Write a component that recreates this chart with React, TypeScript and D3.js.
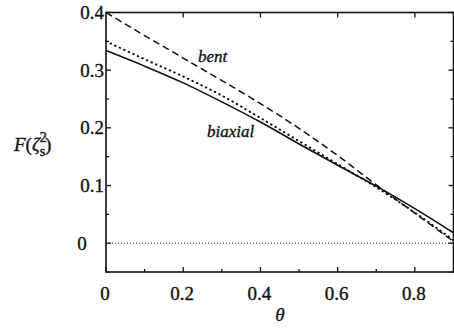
import { useEffect, useRef } from 'react';
import * as d3 from 'd3';

const theta = [0, 0.1, 0.2, 0.3, 0.4, 0.5, 0.6, 0.7, 0.8, 0.9];
const biaxial = [0.334, 0.307, 0.278, 0.245, 0.21, 0.172, 0.135, 0.099, 0.06, 0.018];
const dotted = [0.35, 0.319, 0.289, 0.256, 0.217, 0.177, 0.137, 0.097, 0.053, 0.005];
const bent = [0.4, 0.36, 0.321, 0.282, 0.242, 0.199, 0.152, 0.101, 0.052, 0.003];

const xMajor = [0, 0.2, 0.4, 0.6, 0.8];
const xMinor = [0.1, 0.3, 0.5, 0.7];
const yMajor = [0, 0.1, 0.2, 0.3, 0.4];
const yMinor = [-0.05, 0.05, 0.15, 0.25, 0.35];

const W = 454;
const H = 328;
const FONT = '"Liberation Serif", "Times New Roman", serif';

const App = () => {
  const svgRef = useRef<SVGSVGElement>(null);

  useEffect(() => {
    const svg = d3.select(svgRef.current);
    svg.selectAll('*').remove();

    const x = d3.scaleLinear().domain([0, 0.9]).range([106, 453.5]);
    const y = d3.scaleLinear().domain([-0.05, 0.4]).range([272, 12.5]);
    const [x0, x1] = x.range();
    const [y0, y1] = y.range();

    const g = svg.append('g');

    // zero line
    g.append('line')
      .attr('x1', x0).attr('x2', x1)
      .attr('y1', y(0)).attr('y2', y(0))
      .attr('stroke', '#222').attr('stroke-width', 1)
      .attr('stroke-dasharray', '1,2');

    const line = d3.line<number>()
      .x((d, i) => x(theta[i]))
      .y(d => y(d))
      .curve(d3.curveMonotoneX);

    g.append('path').datum(bent)
      .attr('d', line).attr('fill', 'none')
      .attr('stroke', '#111').attr('stroke-width', 1.5)
      .attr('stroke-dasharray', '7,4');

    g.append('path').datum(dotted)
      .attr('d', line).attr('fill', 'none')
      .attr('stroke', '#111').attr('stroke-width', 2)
      .attr('stroke-linecap', 'round')
      .attr('stroke-dasharray', '0.5,4.5');

    g.append('path').datum(biaxial)
      .attr('d', line).attr('fill', 'none')
      .attr('stroke', '#111').attr('stroke-width', 1.6);

    // frame
    g.append('rect')
      .attr('x', x0).attr('y', y1)
      .attr('width', x1 - x0).attr('height', y0 - y1)
      .attr('fill', 'none').attr('stroke', '#111').attr('stroke-width', 1.6);

    const tick = (ax: number, ay: number, bx: number, by: number) =>
      g.append('line')
        .attr('x1', ax).attr('y1', ay).attr('x2', bx).attr('y2', by)
        .attr('stroke', '#111').attr('stroke-width', 1.3);

    xMajor.forEach(v => { tick(x(v), y0, x(v), y0 - 5); if (v > 0) tick(x(v), y1, x(v), y1 + 5); });
    xMinor.forEach(v => tick(x(v), y0, x(v), y0 - 3));
    yMajor.forEach(v => { tick(x0, y(v), x0 + 5, y(v)); tick(x1, y(v), x1 - 5, y(v)); });
    yMinor.forEach(v => { tick(x0, y(v), x0 + 3, y(v)); tick(x1, y(v), x1 - 3, y(v)); });

    const txt = (sel: any) => sel
      .attr('font-family', FONT)
      .attr('fill', '#111')
      .attr('stroke', '#111')
      .attr('stroke-width', 0.35);

    // tick labels
    g.selectAll('.xl').data(xMajor).enter().append('text')
      .call(txt)
      .attr('x', d => x(d) - 1).attr('y', 300)
      .attr('text-anchor', 'middle')
      .attr('font-size', 19)
      .text(d => (d === 0 ? '0' : d3.format('.1f')(d)));

    g.selectAll('.yl').data(yMajor).enter().append('text')
      .call(txt)
      .attr('x', d => (d === 0 ? 82 : 104))
      .attr('y', d => y(d) + 6.5)
      .attr('text-anchor', d => (d === 0 ? 'middle' : 'end'))
      .attr('font-size', 19)
      .text(d => (d === 0 ? '0' : d3.format('.1f')(d)));

    // curve labels
    g.append('text').call(txt).attr('x', 198).attr('y', 62)
      .attr('font-size', 17).attr('font-style', 'italic').text('bent');
    g.append('text').call(txt).attr('x', 207).attr('y', 137)
      .attr('font-size', 17).attr('font-style', 'italic').text('biaxial');

    // axis titles
    g.append('text').call(txt).attr('x', 280).attr('y', 321)
      .attr('text-anchor', 'middle')
      .attr('font-size', 19).attr('font-style', 'italic').text('θ');

    const yt = g.append('text').call(txt).attr('x', 14).attr('y', 151)
      .attr('font-size', 19);
    yt.append('tspan').attr('font-style', 'italic').text('F');
    yt.append('tspan').text('(');
    yt.append('tspan').attr('font-style', 'italic').text('ζ');
    yt.append('tspan').attr('font-size', 14).attr('dy', -9).text('2');
    yt.append('tspan').attr('font-size', 14).attr('dx', -7).attr('dy', 14).text('s');
    yt.append('tspan').attr('dy', -5).text(')');
  }, []);

  return (
    <svg
      ref={svgRef}
      width={W}
      height={H}
      style={{ position: 'absolute', left: 0, top: 0, background: '#fff' }}
    />
  );
};

export default App;
